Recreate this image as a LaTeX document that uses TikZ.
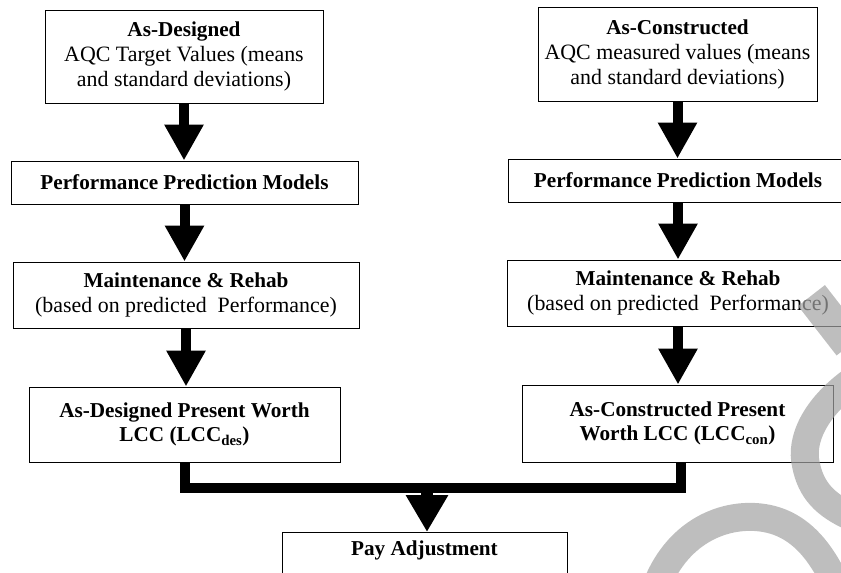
\documentclass[tikz,border=0pt]{standalone}
\usepackage{fontspec}
\setmainfont{Liberation Serif}
\usetikzlibrary{arrows.meta}
\newcommand\bt[1]{{\fontsize{21.2}{24.5}\selectfont\bfseries #1}}
\begin{document}
\begin{tikzpicture}[x=1pt,y=-1pt,
  box/.style={draw, line width=1pt, align=center, inner sep=0pt,
    font=\fontsize{21.9}{24.6}\selectfont},
  fat/.style={line width=10pt, -{Triangle[width=37pt,length=36pt]}},
  wm/.style={draw=black!36, draw opacity=0.7, line width=28pt}]
\useasboundingbox (0,0) rectangle (841,573);
\clip (0,0) rectangle (841,573);
% left column
\node[box, minimum width=278pt, minimum height=93pt] (L1) at (184,56.5)
  {\bt{As-Designed}\\AQC Target Values (means\\and standard deviations)};
\node[box, minimum width=347pt, minimum height=43pt] (L2) at (184.5,182.5)
  {\bt{Performance Prediction Models}};
\node[box, minimum width=346pt, minimum height=66pt] (L3) at (186,295)
  {\bt{Maintenance \& Rehab}\\(based on predicted~ Performance)};
\node[box, minimum width=311pt, minimum height=75pt] (L4) at (184.5,424.5)
  {\bt{As-Designed Present Worth}\\\bt{LCC (LCC\textsubscript{des})}};
% right column
\node[box, minimum width=279pt, minimum height=94pt] (R1) at (677.5,54.5)
  {\bt{As-Constructed}\\AQC measured values (means\\and standard deviations)};
\node[box, minimum width=340pt, minimum height=43pt] (R2) at (678,180.5)
  {\bt{Performance Prediction Models}};
\node[box, minimum width=342pt, minimum height=66pt] (R3) at (678,293)
  {\bt{Maintenance \& Rehab}\\(based on predicted~ Performance)};
\node[box, minimum width=311pt, minimum height=77pt] (R4) at (677.5,423.5)
  {\bt{As-Constructed Present}\\\bt{Worth LCC (LCC\textsubscript{con})}};
% bottom
\node[draw, line width=1pt, anchor=north, inner xsep=0pt, inner ysep=8pt,
  minimum width=285pt, text depth=45pt, font=\fontsize{21.9}{24.6}\selectfont]
  (P) at (424.5,532) {\bt{Pay Adjustment}};
% arrows
\draw[fat] (L1.south) -- (L1.south |- L2.north);
\draw[fat] (L2.south) -- (L2.south |- L3.north);
\draw[fat] (L3.south) -- (L3.south |- L4.north);
\draw[fat] (R1.south) -- (R1.south |- R2.north);
\draw[fat] (R2.south) -- (R2.south |- R3.north);
\draw[fat] (R3.south) -- (R3.south |- R4.north);
\coordinate (m) at (427,487.5);
\draw[line width=10pt, line join=miter] (L4.south) |- (m) -| ([xshift=3pt]R4.south);
\draw[line width=12pt, -{Triangle[width=40pt,length=37pt]}] (m) -- (m |- P.north);
% watermark
\draw[wm, line width=34pt] (811.5,295.5) -- (850,345);
\draw[wm] (852,381) .. controls (815,408) and (800,440) .. (806,465)
  .. controls (811,490) and (825,505) .. (852,517);
\draw[wm] (658,582) .. controls (678,535) and (718,515) .. (755,517)
  .. controls (790,519) and (815,540) .. (835,582);
\end{tikzpicture}
\end{document}
